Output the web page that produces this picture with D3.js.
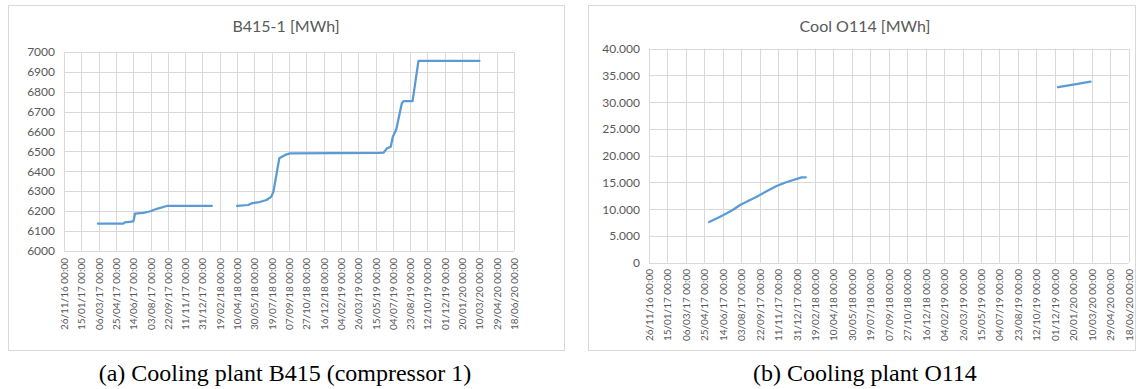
<!DOCTYPE html>
<html>
<head>
<meta charset="utf-8">
<script src="https://cdn.jsdelivr.net/npm/d3@7"></script>
<style>
  html, body { margin: 0; padding: 0; background: #fff; }
  svg { display: block; }
</style>
</head>
<body>
<svg id="chart" width="1136" height="389"></svg>
<script>
// Shared date axis: one tick every 50 days
const tickDates = ["2016-11-26","2017-01-15","2017-03-06","2017-04-25","2017-06-14","2017-08-03",
  "2017-09-22","2017-11-11","2017-12-31","2018-02-19","2018-04-10","2018-05-30","2018-07-19",
  "2018-09-07","2018-10-27","2018-12-16","2019-02-04","2019-03-26","2019-05-15","2019-07-04",
  "2019-08-23","2019-10-12","2019-12-01","2020-01-20","2020-03-10","2020-04-29","2020-06-18"];

// B415 compressor 1 meter reading (null = no data)
const b415Dates = ["2017-03-04","2017-05-16","2017-05-20","2017-06-10","2017-06-15","2017-06-19",
  "2017-07-13","2017-07-28","2017-08-05","2017-08-11","2017-08-26","2017-09-19","2018-01-27",
  "2018-02-20",
  "2018-04-10","2018-05-12","2018-05-21","2018-06-14","2018-07-04","2018-07-18","2018-07-24",
  "2018-08-10","2018-08-27","2018-09-10","2019-05-27","2019-06-07","2019-06-17","2019-06-28",
  "2019-07-04","2019-07-14","2019-07-30","2019-08-04","2019-08-30","2019-09-16","2020-03-10"];
const b415Values = [6136,6136,6142,6146,6150,6186,
  6190,6196,6200,6205,6213,6225,6225,
  null,
  6225,6230,6238,6245,6255,6272,6297,
  6465,6482,6490,6492,6493,6515,6523,
  6574,6611,6742,6753,6753,6955,6955];
const b415Ticks = [6000,6100,6200,6300,6400,6500,6600,6700,6800,6900,7000];

// O114 cooling meter reading (null = no data)
const o114Dates = ["2017-05-08","2017-06-04","2017-06-25","2017-07-14","2017-07-31","2017-08-23",
  "2017-09-14","2017-10-12","2017-11-07","2017-12-01","2017-12-22","2018-01-14","2018-01-25",
  "2019-01-01",
  "2019-12-10","2020-01-20","2020-03-07"];
const o114Values = [7607,8500,9230,10000,10785,11600,
  12340,13400,14336,15000,15458,15960,15960,
  null,
  32800,33300,33850];
const o114Ticks = [0,5000,10000,15000,20000,25000,30000,35000,40000];

const parseDate = d3.utcParse("%Y-%m-%d");
const fmtDate = d3.utcFormat("%d/%m/%y %H:%M");
const dotLocale = d3.formatLocale({decimal: ",", thousands: ".", grouping: [3], currency: ["", ""]});
const fmtDot = v => v === 0 ? "0" : dotLocale.format(",.0f")(v);

const svg = d3.select("#chart");
svg.append("rect").attr("width", 1136).attr("height", 389).attr("fill", "#fff");

const GRID = "#d9d9d9";
const TEXT = "#595959";
const LINE = "#5b9bd5";
const UI_FONT = "Lato, 'Open Sans', sans-serif";

function drawPanel(p) {
  const g = svg.append("g");
  g.append("rect")
    .attr("x", p.box[0] + 0.5).attr("y", p.box[1] + 0.5)
    .attr("width", p.box[2] - p.box[0]).attr("height", p.box[3] - p.box[1])
    .attr("fill", "#fff").attr("stroke", GRID).attr("stroke-width", 1);

  const x = d3.scaleUtc()
    .domain([parseDate(tickDates[0]), parseDate(tickDates[tickDates.length - 1])])
    .range([p.plot.left, p.plot.right]);
  const y = d3.scaleLinear().domain(p.yDomain).range([p.plot.bottom, p.plot.top]);

  // horizontal gridlines + y labels
  const yAxis = d3.axisLeft(y).tickValues(p.yTicks).tickSize(0).tickPadding(0).tickFormat(p.yFormat);
  const ya = g.append("g").attr("transform", `translate(${p.yLabelRight},0)`).call(yAxis);
  ya.select(".domain").remove();
  ya.selectAll("text").attr("fill", TEXT).style("font-family", UI_FONT).style("font-size", "12px");
  g.append("g").selectAll("line").data(p.yTicks).join("line")
    .attr("x1", p.plot.left).attr("x2", p.plot.right)
    .attr("y1", d => Math.round(y(d)) + 0.5).attr("y2", d => Math.round(y(d)) + 0.5)
    .attr("stroke", GRID).attr("stroke-width", 1);

  // vertical gridlines + rotated date labels
  const tv = tickDates.map(parseDate);
  g.append("g").selectAll("line").data(tv).join("line")
    .attr("x1", d => Math.round(x(d)) + 0.5).attr("x2", d => Math.round(x(d)) + 0.5)
    .attr("y1", p.plot.top).attr("y2", p.plot.bottom)
    .attr("stroke", GRID).attr("stroke-width", 1);
  const xAxis = d3.axisBottom(x).tickValues(tv).tickSize(0).tickPadding(0).tickFormat(fmtDate);
  const xa = g.append("g").attr("transform", `translate(0,${p.xLabelTop})`).call(xAxis);
  xa.select(".domain").remove();
  xa.selectAll("text")
    .attr("fill", TEXT).style("font-family", UI_FONT).style("font-size", "10px")
    .attr("text-anchor", "end").attr("dy", "0.35em").attr("y", 0)
    .attr("transform", "rotate(-90)");

  // series
  const pts = p.dates.map((d, i) => ({date: parseDate(d), value: p.values[i]}));
  const line = d3.line()
    .defined(d => d.value !== null)
    .x(d => x(d.date)).y(d => y(d.value));
  g.append("path").datum(pts)
    .attr("fill", "none").attr("stroke", LINE).attr("stroke-width", 2.25)
    .attr("stroke-linejoin", "round").attr("stroke-linecap", "round")
    .attr("d", line);

  // title
  g.append("text").attr("x", p.titleX).attr("y", 32)
    .attr("text-anchor", "middle").attr("fill", TEXT)
    .style("font-family", UI_FONT).style("font-size", "16px")
    .text(p.title);

  // caption
  svg.append("text").attr("x", p.captionX).attr("y", 381)
    .attr("text-anchor", "middle").attr("fill", "#000")
    .style("font-family", "'Liberation Serif', 'Times New Roman', serif").style("font-size", "24px")
    .text(p.caption);
}

drawPanel({
  box: [8, 5, 564, 350],
  plot: {left: 64, right: 514, top: 52, bottom: 250.7},
  yDomain: [6000, 7000], yTicks: b415Ticks, yFormat: d3.format("d"),
  yLabelRight: 55, xLabelTop: 258,
  dates: b415Dates, values: b415Values,
  title: "B415-1 [MWh]", titleX: 286,
  caption: "(a) Cooling plant B415 (compressor 1)", captionX: 285
});

drawPanel({
  box: [588, 5, 1135, 350],
  plot: {left: 649, right: 1128.5, top: 48.7, bottom: 262.7},
  yDomain: [0, 40000], yTicks: o114Ticks, yFormat: fmtDot,
  yLabelRight: 640, xLabelTop: 269,
  dates: o114Dates, values: o114Values,
  title: "Cool O114 [MWh]", titleX: 865,
  caption: "(b) Cooling plant O114", captionX: 865
});
</script>
</body>
</html>
